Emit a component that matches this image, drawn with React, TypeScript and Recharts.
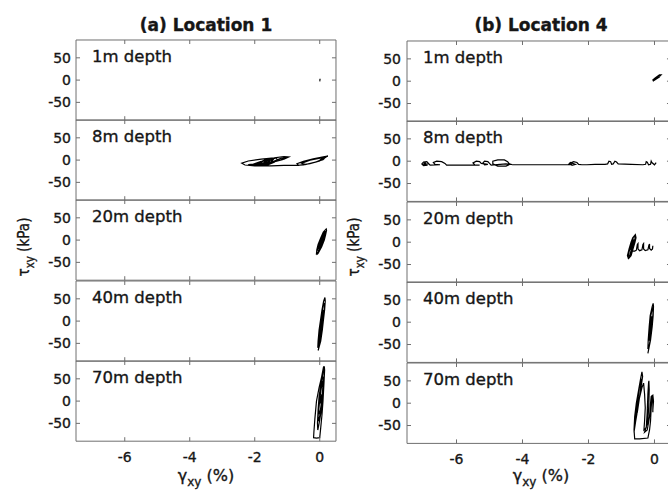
import * as React from "react"
import { LineChart, Line, XAxis, YAxis } from "recharts"

const gammaTicks = [-6, -4, -2, 0]
const tauTicks = [-50, 0, 50]
const depthLabels = ["1m depth", "8m depth", "20m depth", "40m depth", "70m depth"]
const columnTitles = ["(a) Location 1", "(b) Location 4"]

// [gamma %, tau kPa]
const loc1Depth1 = [[0, -3], [0.01, 3], [0, -2], [0.01, 2], [0, -1]]
const loc1Depth8 = [
  [0, 0], [0.15, 6], [0.25, 9], [0.15, 8], [-0.2, 3], [-0.5, -3], [-0.7, -8], [-0.65, -12], [-0.3, -8], [0, -2],
  [0.2, 7], [0.05, 5], [-0.3, 0], [-0.55, -7], [-0.45, -10], [-0.1, -4], [0.15, 4], [0.1, 1], [-0.2, -6],
  [-0.5, -11], [-0.8, -12], [-1.1, -12], [-1.5, -13], [-2.0, -13], [-2.3, -11], [-2.4, -7], [-2.2, -2],
  [-1.8, 2], [-1.4, 5], [-1.1, 8], [-0.95, 7], [-1.1, 2], [-1.5, -4], [-1.9, -8], [-2.2, -10], [-2.05, -12],
  [-1.7, -8], [-1.4, -2], [-1.2, 4], [-1.0, 6], [-1.15, 1], [-1.5, -6], [-1.8, -10], [-1.6, -11], [-1.4, -5],
  [-1.3, 1], [-1.35, 5], [-1.55, 0], [-1.75, -7], [-1.6, -9], [-1.45, -2], [-1.6, 3], [-1.8, -3],
  [-2.0, -8], [-1.85, -11], [-1.6, -6], [-1.5, 1], [-1.7, -1], [-1.9, -8], [-1.7, -10], [-1.5, -4], [-1.4, 4],
  [-1.55, 4], [-1.7, -4], [-1.55, -8], [-1.45, 0],
]
const loc1Depth20 = [
  [-0.1, -33], [-0.05, -30], [0.06, -15], [0.14, 0], [0.18, 12], [0.21, 22], [0.2, 25], [0.11, 18], [0.03, 5],
  [-0.05, -10], [-0.09, -22], [-0.1, -30], [-0.06, -28], [0.03, -15], [0.11, 0], [0.16, 12], [0.19, 20],
  [0.14, 18], [0.06, 5], [-0.02, -10], [-0.07, -22], [-0.03, -24], [0, -15], [0.09, 0], [0.15, 14],
  [0.16, 18], [0.12, 12], [0.05, 0], [0.01, -10], [-0.04, -20], [-0.02, -18], [0.06, -6], [0.13, 6],
  [0.16, 14], [0.1, 10], [0.02, -2], [-0.03, -12],
]
const loc1Depth40 = [
  [-0.05, -66], [0.03, -45], [0.08, -20], [0.11, 0], [0.15, 25], [0.17, 45], [0.16, 53], [0.12, 45],
  [0.07, 25], [0.02, 0], [-0.02, -20], [-0.05, -45], [-0.06, -60], [0.01, -45], [0.06, -20], [0.095, 0],
  [0.14, 25], [0.15, 40], [0.12, 38], [0.08, 25], [0.04, 0], [0, -20], [-0.04, -45], [-0.04, -55],
  [-0.02, -45], [0.04, -20], [0.075, 0], [0.12, 25], [0.1, 22], [0.055, 0], [0.02, -20], [-0.01, -40],
]
const loc1Depth70 = [
  [0.12, 78], [0.06, 55], [-0.02, 30], [-0.1, 0], [-0.15, -40], [-0.18, -70], [-0.19, -82], [-0.1, -83],
  [0, -82], [0.03, -60], [0.07, -30], [0.1, 0], [0.13, 40], [0.15, 70], [0.14, 78], [0.1, 60], [0.04, 40],
  [-0.02, 10], [-0.05, -20], [-0.07, -50], [-0.06, -65], [-0.02, -50], [0.04, -25], [0.08, 0], [0.11, 30],
  [0.12, 55], [0.08, 50], [0.03, 25], [-0.02, -5], [-0.05, -35], [-0.03, -45], [0.02, -25], [0.06, 0],
  [0.09, 25], [0.1, 45], [0.06, 35], [0.01, 10], [-0.03, -20], [0, -30], [0.04, -10], [0.07, 15],
  [0.04, 10], [0.01, -5],
]

const loc4Depth1 = [
  [-0.05, 0], [0.1, 7], [0.2, 14], [0.15, 14], [0.02, 7], [-0.06, 2], [0.05, 5], [0.18, 12], [0.1, 11],
  [-0.02, 3], [0.08, 6], [0.16, 10],
]
const loc4Depth8 = [
  [0.05, -3], [0, -8], [-0.08, -3], [-0.1, 0], [-0.12, -7], [-0.18, -8], [-0.22, -2], [-0.25, -1], [-0.27, -7],
  [-0.35, -8], [-0.7, -7], [-1.1, -6], [-1.15, -2], [-1.2, 0], [-1.25, -6], [-1.3, -7], [-1.33, -1],
  [-1.38, 0], [-1.42, -6], [-1.5, -7], [-1.8, -7], [-2.05, -8], [-2.2, -8], [-2.3, -7], [-2.35, -3],
  [-2.45, -1], [-2.55, -4], [-2.5, -9], [-2.4, -7], [-2.55, -3], [-2.6, -7], [-2.5, -8], [-2.7, -8],
  [-3.5, -8], [-4.3, -8], [-4.4, -6], [-4.45, -1], [-4.55, 3], [-4.75, 3], [-4.9, 0], [-4.9, -6],
  [-4.75, -11], [-4.5, -11], [-4.38, -7], [-4.5, -6], [-4.95, -9], [-5.0, -5], [-5.05, -1], [-5.15, 0],
  [-5.2, -4], [-5.15, -8], [-5.05, -7], [-5.25, -5], [-5.3, -1], [-5.4, 0], [-5.5, -4], [-5.45, -8],
  [-5.3, -9], [-5.55, -9], [-6.0, -9], [-6.3, -9], [-6.35, -5], [-6.45, -1], [-6.6, 0], [-6.7, -3],
  [-6.65, -7], [-6.5, -8], [-6.8, -9], [-6.85, -5], [-6.9, -1], [-7.0, -2], [-7.05, -6], [-7.0, -10],
  [-6.9, -9], [-6.95, -4], [-7.0, -7], [-6.85, -6],
]
const loc4Depth20 = [
  [-0.8, -38], [-0.71, -30], [-0.65, -15], [-0.59, 0], [-0.56, 10], [-0.58, 17], [-0.66, 10], [-0.71, 0],
  [-0.77, -15], [-0.82, -30], [-0.8, -34], [-0.735, -30], [-0.675, -15], [-0.615, 0], [-0.585, 10],
  [-0.6, 14], [-0.645, 10], [-0.685, 0], [-0.745, -15], [-0.8, -30], [-0.755, -30], [-0.695, -15],
  [-0.635, 0], [-0.62, 6], [-0.665, 0], [-0.72, -15], [-0.7, -20], [-0.6, -20], [-0.55, -18],
  [-0.52, -5], [-0.5, -3], [-0.5, -15], [-0.45, -19], [-0.38, -17], [-0.35, -5], [-0.33, -3], [-0.33, -15],
  [-0.28, -19], [-0.2, -17], [-0.17, -7], [-0.15, -4], [-0.15, -14], [-0.1, -18], [-0.06, -15], [-0.05, -8],
]
const loc4Depth40 = [
  [-0.2, -70], [-0.12, -40], [-0.07, -10], [-0.04, 15], [-0.03, 35], [-0.04, 42], [-0.07, 35], [-0.13, 15],
  [-0.16, -10], [-0.19, -40], [-0.2, -60], [-0.17, -55], [-0.13, -40], [-0.09, -10], [-0.05, 15],
  [-0.04, 30], [-0.06, 32], [-0.11, 15], [-0.14, -10], [-0.18, -40], [-0.16, -40], [-0.1, -10],
  [-0.06, 12], [-0.09, 12], [-0.13, -10], [-0.16, -30],
]
const loc4Depth70 = [
  [-0.05, -20], [-0.05, 10], [-0.07, 18], [-0.1, -10], [-0.12, -40], [-0.15, -60], [-0.2, -78], [-0.45, -80],
  [-0.6, -80], [-0.62, -60], [-0.6, -30], [-0.55, 0], [-0.48, 30], [-0.42, 55], [-0.38, 70], [-0.36, 60],
  [-0.42, 30], [-0.5, -10], [-0.57, -40], [-0.62, -65], [-0.6, -50], [-0.55, -20], [-0.5, 10], [-0.45, 40],
  [-0.4, 55], [-0.43, 25], [-0.5, -5], [-0.56, -30], [-0.52, -20], [-0.46, 10], [-0.38, 35], [-0.33, 45],
  [-0.3, 20], [-0.28, -10], [-0.3, -40], [-0.32, -60], [-0.25, -55], [-0.22, -20], [-0.2, 20], [-0.18, 45],
  [-0.17, 50], [-0.16, 30], [-0.17, 0], [-0.2, -40], [-0.3, -65], [-0.22, -60], [-0.15, -30], [-0.12, 0],
  [-0.1, 15], [-0.05, 18], [-0.03, 5], [-0.05, -15],
]

const loc1 = [loc1Depth1, loc1Depth8, loc1Depth20, loc1Depth40, loc1Depth70]
const loc4 = [loc4Depth1, loc4Depth8, loc4Depth20, loc4Depth40, loc4Depth70]

const FONT = "'DejaVu Sans', 'Liberation Sans', Arial, sans-serif"
const FRAME = "#6e6e6e"
const INK = "#161616"
const YW = 40
const MT = 2
const G_DOMAIN = [-7.5, 0.5]
const T_DOMAIN = [-90, 90]
const tickStyle = { fontFamily: FONT, fontSize: 14, fill: INK, stroke: INK, strokeWidth: 0.35 }

const toRows = (pts: number[][]) => pts.map(([g, tau]) => ({ g, tau }))
const blank = () => ""

function Panel({ pts, left, top, height, plotWidth, bottom, labelGap }: any) {
  const axisH = bottom ? 40 : 0
  const frame = {
    type: "number" as const, stroke: FRAME, tickLine: { stroke: FRAME }, tickFormatter: blank,
    tickSize: 4, mirror: true, allowDataOverflow: true,
  }
  return (
    <div style={{ position: "absolute", left: left - YW, top: top - MT }}>
      <LineChart
        width={YW + plotWidth + 4}
        height={height + MT + (bottom ? axisH : 2)}
        data={toRows(pts)}
        margin={{ top: MT, right: 4, bottom: bottom ? 0 : 2, left: 0 }}
      >
        <XAxis xAxisId="g" dataKey="g" type="number" domain={G_DOMAIN} ticks={gammaTicks}
          hide={!bottom} height={axisH} axisLine={false} tickLine={false} tickSize={0} tickMargin={11}
          tick={tickStyle} allowDataOverflow />
        <XAxis xAxisId="fb" dataKey="g" orientation="bottom" domain={G_DOMAIN} ticks={gammaTicks} {...frame} />
        <XAxis xAxisId="ft" dataKey="g" orientation="top" domain={G_DOMAIN} ticks={gammaTicks} {...frame} />
        <YAxis yAxisId="t" dataKey="tau" type="number" domain={T_DOMAIN} ticks={tauTicks} width={YW}
          axisLine={false} tickLine={false} tickSize={0} tickMargin={labelGap}
          tick={tickStyle} allowDataOverflow />
        <YAxis yAxisId="fl" dataKey="tau" orientation="left" domain={T_DOMAIN} ticks={tauTicks} {...frame} />
        <YAxis yAxisId="fr" dataKey="tau" orientation="right" domain={T_DOMAIN} ticks={tauTicks} {...frame} />
        <Line xAxisId="g" yAxisId="t" dataKey="tau" type="linear" stroke="#000" strokeWidth={1.2}
          dot={false} activeDot={false} isAnimationActive={false} />
      </LineChart>
    </div>
  )
}

const columns = [
  { data: loc1, left: 76, top: 40, height: 80.2, plotWidth: 260, labelGap: 5, center: 206, yTitleX: 29 },
  { data: loc4, left: 407, top: 41, height: 80.4, plotWidth: 264, labelGap: 6, center: 541, yTitleX: 359 },
]

export default function App() {
  return (
    <div style={{ position: "absolute", left: 0, top: 0, width: 668, height: 493, overflow: "hidden", background: "#fff" }}>
      {columns.map((c, ci) =>
        c.data.map((pts, i) => (
          <Panel key={`${ci}-${i}`} pts={pts} left={c.left} top={c.top + i * c.height} height={c.height}
            plotWidth={c.plotWidth} bottom={i === 4} labelGap={c.labelGap} />
        ))
      )}
      <svg width={668} height={493} style={{ position: "absolute", left: 0, top: 0, pointerEvents: "none" }}>
        {columns.map((c, ci) => (
          <g key={ci} fontFamily={FONT} fill={INK} stroke={INK} strokeWidth={0.35}>
            <text x={c.center} y={31} textAnchor="middle" fontSize={17} fontWeight="bold">{columnTitles[ci]}</text>
            {depthLabels.map((d, i) => (
              <text key={d} x={c.left + 16} y={c.top + i * c.height + 22} fontSize={16.5}>{d}</text>
            ))}
            <text x={c.center} y={481} textAnchor="middle" fontSize={16}>
              γ<tspan fontSize={12} dy={5}>xy</tspan><tspan dy={-5}> (%)</tspan>
            </text>
            <text transform={`translate(${c.yTitleX},247) rotate(-90) scale(0.85,1)`} textAnchor="middle" fontSize={16}>
              τ<tspan fontSize={12} dy={5}>xy</tspan><tspan dy={-5}> (kPa)</tspan>
            </text>
          </g>
        ))}
      </svg>
    </div>
  )
}
